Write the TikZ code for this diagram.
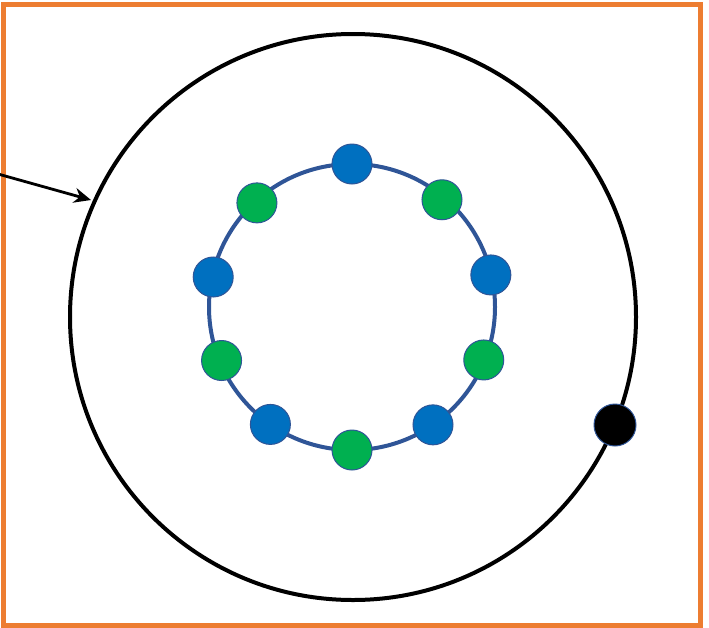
\documentclass[tikz,border=0pt]{standalone}
\usetikzlibrary{arrows.meta}
\definecolor{frameorange}{HTML}{ED7D31}
\definecolor{ringblue}{HTML}{2F5597}
\definecolor{dotblue}{HTML}{0070C0}
\definecolor{dotgreen}{HTML}{00B050}
\tikzset{
  bluedot/.style={circle,fill=dotblue,draw=ringblue,line width=1pt,minimum size=40pt,inner sep=0pt},
  greendot/.style={circle,fill=dotgreen,draw=ringblue,line width=1pt,minimum size=40pt,inner sep=0pt},
  blackdot/.style={circle,fill=black,draw=ringblue,line width=1pt,minimum size=42pt,inner sep=0pt},
  orbit/.style={draw=black,line width=4pt},
  ring/.style={draw=ringblue,line width=4pt},
  pointer/.style={draw=black,line width=2.8pt,-{Stealth[length=17pt,width=15pt]}}
}
\begin{document}
\begin{tikzpicture}[x=1pt,y=-1pt]
\useasboundingbox (0,0) rectangle (709,627);
\draw[draw=frameorange,line width=5pt] (3,4.5) rectangle (700.5,625.5);
% big orbit
\coordinate (bc) at (353,317);
\draw[orbit] (bc) circle[radius=283];
\coordinate (arrowstart) at (-2,174);
\coordinate (arrowend) at (91,200);
\draw[pointer] (arrowstart) -- (arrowend);
\node[blackdot] (k) at (615,425) {};
% inner ring
\begin{scope}[shift={(352,307)},yscale=-1]
\coordinate (ic) at (0,0);
\draw[ring] (ic) circle[radius=143];
\node[bluedot]  (b1) at (90:143) {};
\node[greendot] (g1) at (132.4:141) {};
\node[bluedot]  (b2) at (167.8:142) {};
\node[greendot] (g2) at (202.3:141) {};
\node[bluedot]  (b3) at (235.2:143) {};
\node[greendot] (g3) at (270:143) {};
\node[bluedot]  (b4) at (304.5:143) {};
\node[greendot] (g4) at (338.1:142) {};
\node[bluedot]  (b5) at (13:142.5) {};
\node[greendot] (g5) at (50:140) {};
\end{scope}
\end{tikzpicture}
\end{document}
